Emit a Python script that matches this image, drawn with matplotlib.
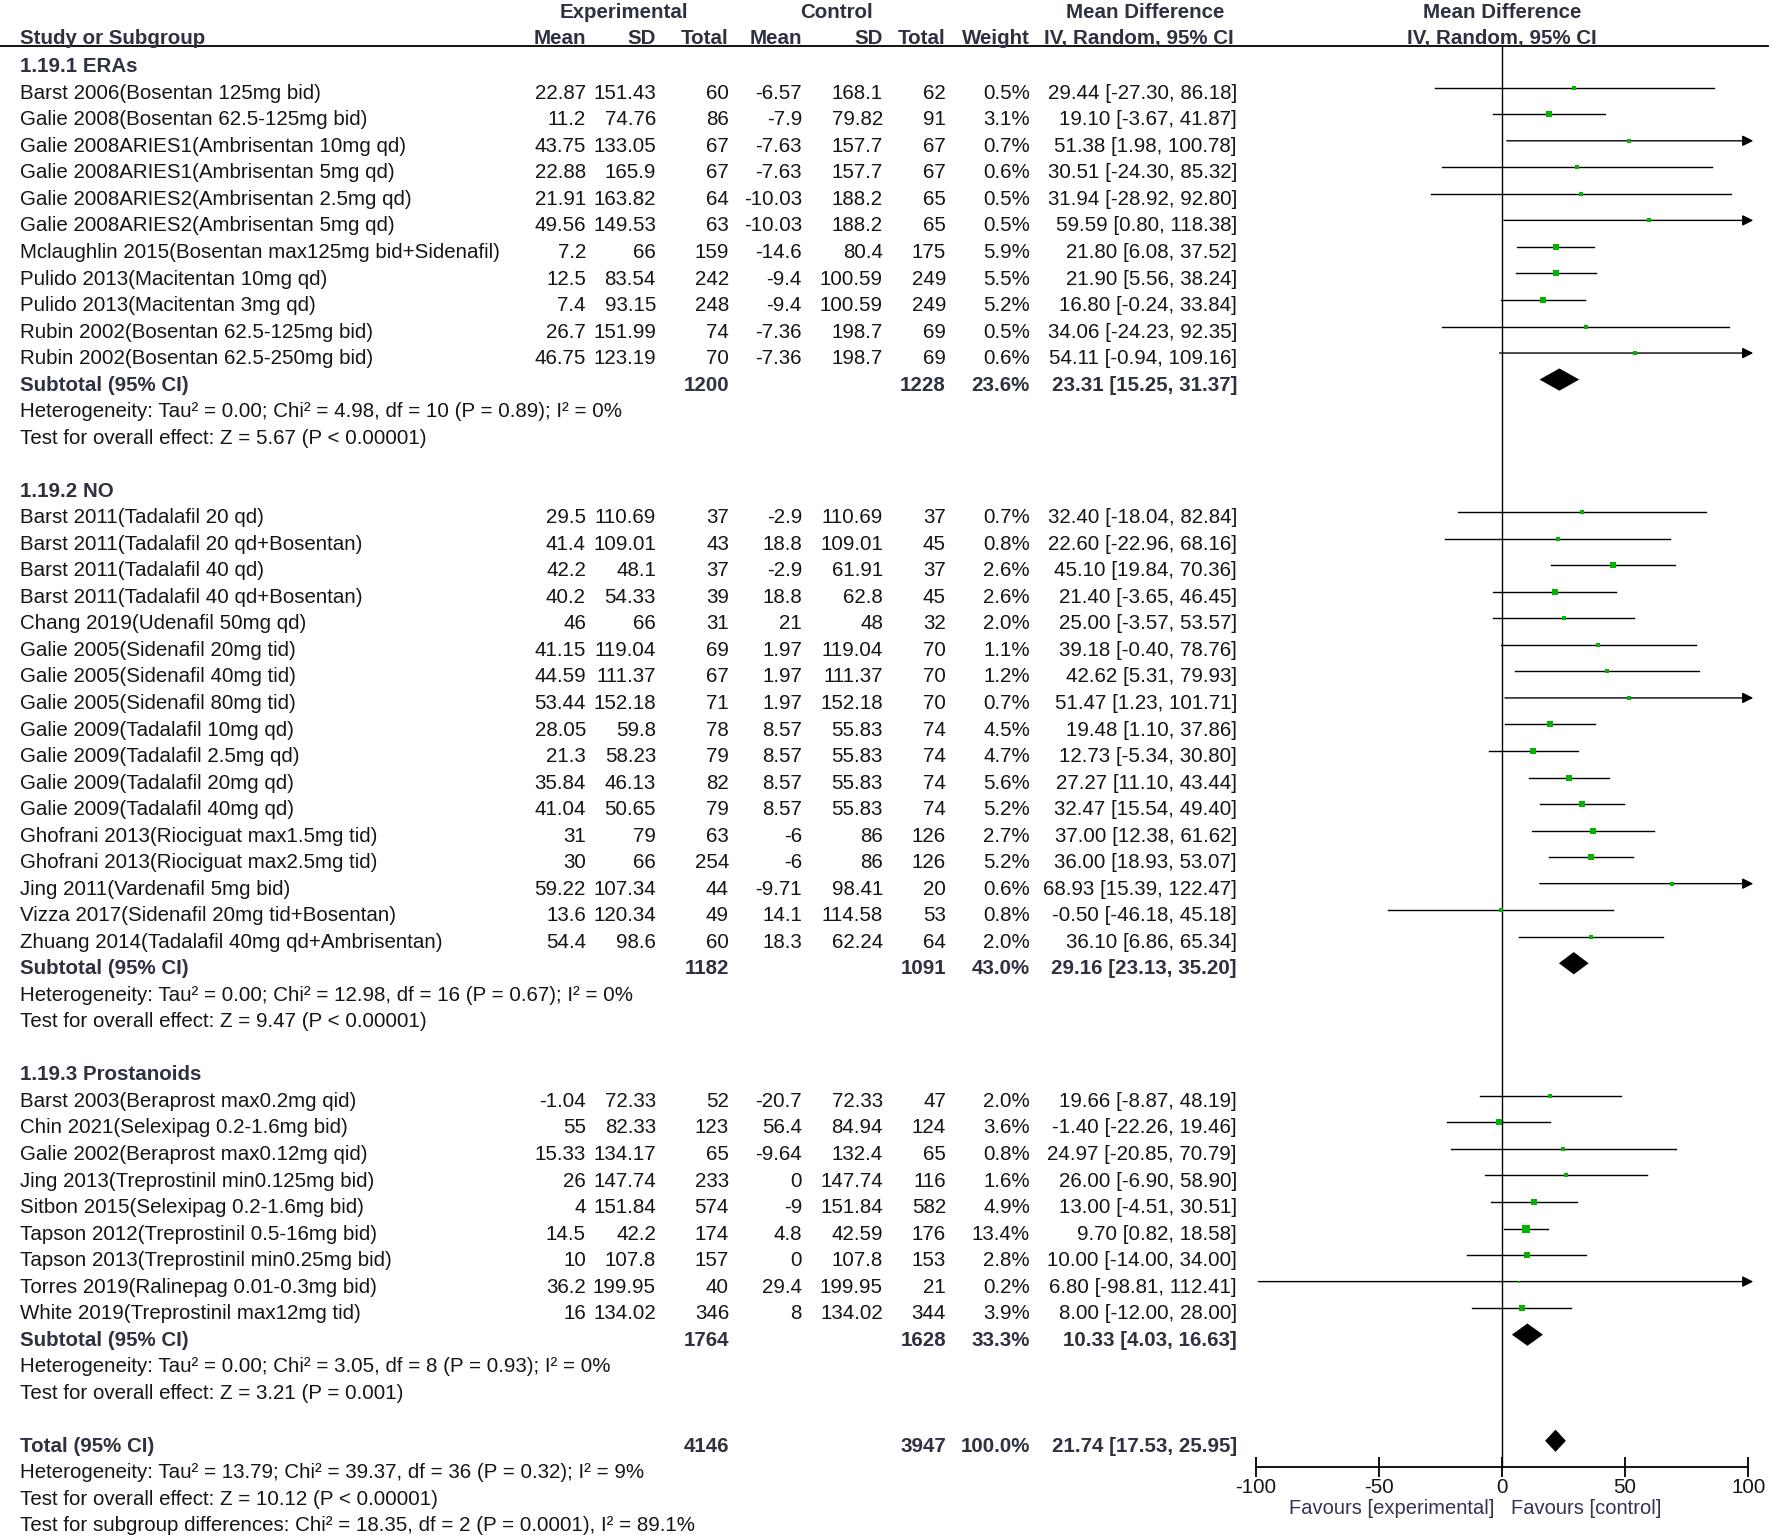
"""Forest plot: mean difference, IV random, three drug-class subgroups."""
import numpy as np
import matplotlib
matplotlib.use('Agg')
import matplotlib.pyplot as plt

FONT = ['Liberation Sans Narrow', 'Liberation Sans', 'DejaVu Sans']
BOLD_COLOR = '#2e3140'
TEXT_COLOR = '#151515'
GREEN = '#00b400'

# ---- data -----------------------------------------------------------------
groups = ['1.19.1 ERAs', '1.19.2 NO', '1.19.3 Prostanoids']

studies = [
    ['Barst 2006(Bosentan 125mg bid)',
     'Galie 2008(Bosentan 62.5-125mg bid)',
     'Galie 2008ARIES1(Ambrisentan 10mg qd)',
     'Galie 2008ARIES1(Ambrisentan 5mg qd)',
     'Galie 2008ARIES2(Ambrisentan 2.5mg qd)',
     'Galie 2008ARIES2(Ambrisentan 5mg qd)',
     'Mclaughlin 2015(Bosentan max125mg bid+Sidenafil)',
     'Pulido 2013(Macitentan 10mg qd)',
     'Pulido 2013(Macitentan 3mg qd)',
     'Rubin 2002(Bosentan 62.5-125mg bid)',
     'Rubin 2002(Bosentan 62.5-250mg bid)'],
    ['Barst 2011(Tadalafil 20 qd)',
     'Barst 2011(Tadalafil 20 qd+Bosentan)',
     'Barst 2011(Tadalafil 40 qd)',
     'Barst 2011(Tadalafil 40 qd+Bosentan)',
     'Chang 2019(Udenafil 50mg qd)',
     'Galie 2005(Sidenafil 20mg tid)',
     'Galie 2005(Sidenafil 40mg tid)',
     'Galie 2005(Sidenafil 80mg tid)',
     'Galie 2009(Tadalafil 10mg qd)',
     'Galie 2009(Tadalafil 2.5mg qd)',
     'Galie 2009(Tadalafil 20mg qd)',
     'Galie 2009(Tadalafil 40mg qd)',
     'Ghofrani 2013(Riociguat max1.5mg tid)',
     'Ghofrani 2013(Riociguat max2.5mg tid)',
     'Jing 2011(Vardenafil 5mg bid)',
     'Vizza 2017(Sidenafil 20mg tid+Bosentan)',
     'Zhuang 2014(Tadalafil 40mg qd+Ambrisentan)'],
    ['Barst 2003(Beraprost max0.2mg qid)',
     'Chin 2021(Selexipag 0.2-1.6mg bid)',
     'Galie 2002(Beraprost max0.12mg qid)',
     'Jing 2013(Treprostinil min0.125mg bid)',
     'Sitbon 2015(Selexipag 0.2-1.6mg bid)',
     'Tapson 2012(Treprostinil 0.5-16mg bid)',
     'Tapson 2013(Treprostinil min0.25mg bid)',
     'Torres 2019(Ralinepag 0.01-0.3mg bid)',
     'White 2019(Treprostinil max12mg tid)'],
]

exp_mean = [
    ['22.87', '11.2', '43.75', '22.88', '21.91', '49.56', '7.2', '12.5', '7.4', '26.7', '46.75'],
    ['29.5', '41.4', '42.2', '40.2', '46', '41.15', '44.59', '53.44', '28.05', '21.3', '35.84',
     '41.04', '31', '30', '59.22', '13.6', '54.4'],
    ['-1.04', '55', '15.33', '26', '4', '14.5', '10', '36.2', '16'],
]
exp_sd = [
    ['151.43', '74.76', '133.05', '165.9', '163.82', '149.53', '66', '83.54', '93.15', '151.99', '123.19'],
    ['110.69', '109.01', '48.1', '54.33', '66', '119.04', '111.37', '152.18', '59.8', '58.23', '46.13',
     '50.65', '79', '66', '107.34', '120.34', '98.6'],
    ['72.33', '82.33', '134.17', '147.74', '151.84', '42.2', '107.8', '199.95', '134.02'],
]
exp_n = [
    [60, 86, 67, 67, 64, 63, 159, 242, 248, 74, 70],
    [37, 43, 37, 39, 31, 69, 67, 71, 78, 79, 82, 79, 63, 254, 44, 49, 60],
    [52, 123, 65, 233, 574, 174, 157, 40, 346],
]
ctl_mean = [
    ['-6.57', '-7.9', '-7.63', '-7.63', '-10.03', '-10.03', '-14.6', '-9.4', '-9.4', '-7.36', '-7.36'],
    ['-2.9', '18.8', '-2.9', '18.8', '21', '1.97', '1.97', '1.97', '8.57', '8.57', '8.57',
     '8.57', '-6', '-6', '-9.71', '14.1', '18.3'],
    ['-20.7', '56.4', '-9.64', '0', '-9', '4.8', '0', '29.4', '8'],
]
ctl_sd = [
    ['168.1', '79.82', '157.7', '157.7', '188.2', '188.2', '80.4', '100.59', '100.59', '198.7', '198.7'],
    ['110.69', '109.01', '61.91', '62.8', '48', '119.04', '111.37', '152.18', '55.83', '55.83', '55.83',
     '55.83', '86', '86', '98.41', '114.58', '62.24'],
    ['72.33', '84.94', '132.4', '147.74', '151.84', '42.59', '107.8', '199.95', '134.02'],
]
ctl_n = [
    [62, 91, 67, 67, 65, 65, 175, 249, 249, 69, 69],
    [37, 45, 37, 45, 32, 70, 70, 70, 74, 74, 74, 74, 126, 126, 20, 53, 64],
    [47, 124, 65, 116, 582, 176, 153, 21, 344],
]
weight = [
    [0.5, 3.1, 0.7, 0.6, 0.5, 0.5, 5.9, 5.5, 5.2, 0.5, 0.6],
    [0.7, 0.8, 2.6, 2.6, 2.0, 1.1, 1.2, 0.7, 4.5, 4.7, 5.6, 5.2, 2.7, 5.2, 0.6, 0.8, 2.0],
    [2.0, 3.6, 0.8, 1.6, 4.9, 13.4, 2.8, 0.2, 3.9],
]
md = [
    [29.44, 19.10, 51.38, 30.51, 31.94, 59.59, 21.80, 21.90, 16.80, 34.06, 54.11],
    [32.40, 22.60, 45.10, 21.40, 25.00, 39.18, 42.62, 51.47, 19.48, 12.73, 27.27, 32.47,
     37.00, 36.00, 68.93, -0.50, 36.10],
    [19.66, -1.40, 24.97, 26.00, 13.00, 9.70, 10.00, 6.80, 8.00],
]
md_lo = [
    [-27.30, -3.67, 1.98, -24.30, -28.92, 0.80, 6.08, 5.56, -0.24, -24.23, -0.94],
    [-18.04, -22.96, 19.84, -3.65, -3.57, -0.40, 5.31, 1.23, 1.10, -5.34, 11.10, 15.54,
     12.38, 18.93, 15.39, -46.18, 6.86],
    [-8.87, -22.26, -20.85, -6.90, -4.51, 0.82, -14.00, -98.81, -12.00],
]
md_hi = [
    [86.18, 41.87, 100.78, 85.32, 92.80, 118.38, 37.52, 38.24, 33.84, 92.35, 109.16],
    [82.84, 68.16, 70.36, 46.45, 53.57, 78.76, 79.93, 101.71, 37.86, 30.80, 43.44, 49.40,
     61.62, 53.07, 122.47, 45.18, 65.34],
    [48.19, 19.46, 70.79, 58.90, 30.51, 18.58, 34.00, 112.41, 28.00],
]

sub_exp_n = [1200, 1182, 1764]
sub_ctl_n = [1228, 1091, 1628]
sub_weight = ['23.6%', '43.0%', '33.3%']
sub_md = [23.31, 29.16, 10.33]
sub_lo = [15.25, 23.13, 4.03]
sub_hi = [31.37, 35.20, 16.63]
sub_het = [
    'Heterogeneity: Tau² = 0.00; Chi² = 4.98, df = 10 (P = 0.89); I² = 0%',
    'Heterogeneity: Tau² = 0.00; Chi² = 12.98, df = 16 (P = 0.67); I² = 0%',
    'Heterogeneity: Tau² = 0.00; Chi² = 3.05, df = 8 (P = 0.93); I² = 0%',
]
sub_test = [
    'Test for overall effect: Z = 5.67 (P < 0.00001)',
    'Test for overall effect: Z = 9.47 (P < 0.00001)',
    'Test for overall effect: Z = 3.21 (P = 0.001)',
]

total_exp_n, total_ctl_n = 4146, 3947
total_md, total_lo, total_hi = 21.74, 17.53, 25.95
total_notes = [
    'Heterogeneity: Tau² = 13.79; Chi² = 39.37, df = 36 (P = 0.32); I² = 9%',
    'Test for overall effect: Z = 10.12 (P < 0.00001)',
    'Test for subgroup differences: Chi² = 18.35, df = 2 (P = 0.0001), I² = 89.1%',
]

xticks = [-100, -50, 0, 50, 100]

# ---- layout (pixels in the 1772 x 1535 canvas, rows in table units) ---------
W, H = 1772, 1535
ROW0_PX, ROW_PX = 64.4, 26.53
y_top = -ROW0_PX / ROW_PX
y_bot = (H - ROW0_PX) / ROW_PX
TEXT_DY = 0.09    # text sits a little below the row line
MARK_DY = -0.12   # marks sit a little above it

# right edges of numeric columns
COL_NAME = 20
COL_EMEAN, COL_ESD, COL_EN = 586, 656, 729
COL_CMEAN, COL_CSD, COL_CN = 802, 883, 946
COL_W, COL_CI = 1030, 1237

# forest panel: -100 .. 100 maps to these pixels
FX0, FX1 = 1255.6, 1748.3

FS = 14.8


def txt(ax, x, y, s, ha='left', bold=False, **kw):
    ax.text(x, y + TEXT_DY, s, ha=ha, va='center', fontsize=FS, family=FONT,
            fontweight='bold' if bold else 'normal',
            color=BOLD_COLOR if bold else TEXT_COLOR, **kw)


def ci_str(m, lo, hi):
    return f'{m:.2f} [{lo:.2f}, {hi:.2f}]'


fig = plt.figure(figsize=(W / 100, H / 100), dpi=100)
ax = fig.add_axes([0, 0, 1, 1])
ax.set_xlim(0, W)
ax.set_ylim(y_bot, y_top)
ax.axis('off')

fx = fig.add_axes([FX0 / W, 0, (FX1 - FX0) / W, 1])
fx.set_xlim(-100, 100)
fx.set_ylim(y_bot, y_top)
fx.patch.set_alpha(0)
for side in ['left', 'right', 'top']:
    fx.spines[side].set_visible(False)

# ---- header ------------------------------------------------------------------
hdr1, hdr2 = -2.05, -1.08
txt(ax, 624, hdr1, 'Experimental', ha='center', bold=True)
txt(ax, 837, hdr1, 'Control', ha='center', bold=True)
txt(ax, 1145, hdr1, 'Mean Difference', ha='center', bold=True)
txt(ax, 1502, hdr1, 'Mean Difference', ha='center', bold=True)
txt(ax, COL_NAME, hdr2, 'Study or Subgroup', bold=True)
for x, s in [(COL_EMEAN, 'Mean'), (COL_ESD, 'SD'), (COL_EN, 'Total'),
             (COL_CMEAN, 'Mean'), (COL_CSD, 'SD'), (COL_CN, 'Total'),
             (COL_W, 'Weight'), (COL_CI - 3, 'IV, Random, 95% CI')]:
    txt(ax, x, hdr2, s, ha='right', bold=True)
txt(ax, 1502, hdr2, 'IV, Random, 95% CI', ha='center', bold=True)
ax.plot([0, 1768], [-0.68, -0.68], color='black', lw=1.3)

# ---- rows --------------------------------------------------------------------
LW = 1.0
DIAMOND_H = 0.42


def diamond(y, m, lo, hi):
    y = y + MARK_DY
    fx.fill([lo, m, hi, m], [y, y - DIAMOND_H, y, y + DIAMOND_H],
            color='black', lw=0, clip_on=False)


row = 0
for g in range(len(groups)):
    txt(ax, COL_NAME, row, groups[g], bold=True)
    row += 1
    for i in range(len(studies[g])):
        txt(ax, COL_NAME, row, studies[g][i])
        txt(ax, COL_EMEAN, row, exp_mean[g][i], ha='right')
        txt(ax, COL_ESD, row, exp_sd[g][i], ha='right')
        txt(ax, COL_EN, row, str(exp_n[g][i]), ha='right')
        txt(ax, COL_CMEAN, row, ctl_mean[g][i], ha='right')
        txt(ax, COL_CSD, row, ctl_sd[g][i], ha='right')
        txt(ax, COL_CN, row, str(ctl_n[g][i]), ha='right')
        txt(ax, COL_W, row, f'{weight[g][i]:.1f}%', ha='right')
        txt(ax, COL_CI, row, ci_str(md[g][i], md_lo[g][i], md_hi[g][i]), ha='right')

        y = row + MARK_DY
        lo, hi = md_lo[g][i], md_hi[g][i]
        if hi > 100:
            fx.annotate('', xy=(102, y), xytext=(max(lo, -100), y),
                        arrowprops=dict(arrowstyle='-|>', lw=LW, color='black',
                                        mutation_scale=16, shrinkA=0, shrinkB=0),
                        annotation_clip=False)
        else:
            fx.plot([max(lo, -100), hi], [y, y], color='black', lw=LW,
                    clip_on=False)
        side_px = 2.0 + 1.9 * np.sqrt(weight[g][i])
        fx.plot(md[g][i], y, marker='s', color=GREEN, markeredgewidth=0,
                markersize=side_px * 0.72, clip_on=False, zorder=3)
        row += 1

    txt(ax, COL_NAME, row, 'Subtotal (95% CI)', bold=True)
    txt(ax, COL_EN, row, str(sub_exp_n[g]), ha='right', bold=True)
    txt(ax, COL_CN, row, str(sub_ctl_n[g]), ha='right', bold=True)
    txt(ax, COL_W, row, sub_weight[g], ha='right', bold=True)
    txt(ax, COL_CI, row, ci_str(sub_md[g], sub_lo[g], sub_hi[g]), ha='right', bold=True)
    diamond(row, sub_md[g], sub_lo[g], sub_hi[g])
    row += 1
    txt(ax, COL_NAME, row, sub_het[g])
    row += 1
    txt(ax, COL_NAME, row, sub_test[g])
    row += 2

txt(ax, COL_NAME, row, 'Total (95% CI)', bold=True)
txt(ax, COL_EN, row, str(total_exp_n), ha='right', bold=True)
txt(ax, COL_CN, row, str(total_ctl_n), ha='right', bold=True)
txt(ax, COL_W, row, '100.0%', ha='right', bold=True)
txt(ax, COL_CI, row, ci_str(total_md, total_lo, total_hi), ha='right', bold=True)
diamond(row, total_md, total_lo, total_hi)
for k, note in enumerate(total_notes):
    txt(ax, COL_NAME, row + 1 + k, note)

# ---- forest axis ---------------------------------------------------------------
axis_row = 52.87
fx.plot([0, 0], [-0.68, axis_row], color='black', lw=LW)
fx.spines['bottom'].set_position(('data', axis_row))
fx.spines['bottom'].set_linewidth(1.3)
fx.set_yticks([])
fx.set_xticks(xticks)
fx.set_xticklabels([str(t) for t in xticks], family=FONT, fontsize=FS, color=TEXT_COLOR)
fx.tick_params(axis='x', direction='inout', length=14, width=1.3, pad=1)
fx.text(-3.2, 54.44, 'Favours [experimental]', ha='right', va='center',
        fontsize=14.5, family=['Liberation Sans', 'DejaVu Sans'], color='#333352')
fx.text(3.6, 54.44, 'Favours [control]', ha='left', va='center',
        fontsize=14.5, family=['Liberation Sans', 'DejaVu Sans'], color='#333352')

fig.savefig('out.png', dpi=100)
